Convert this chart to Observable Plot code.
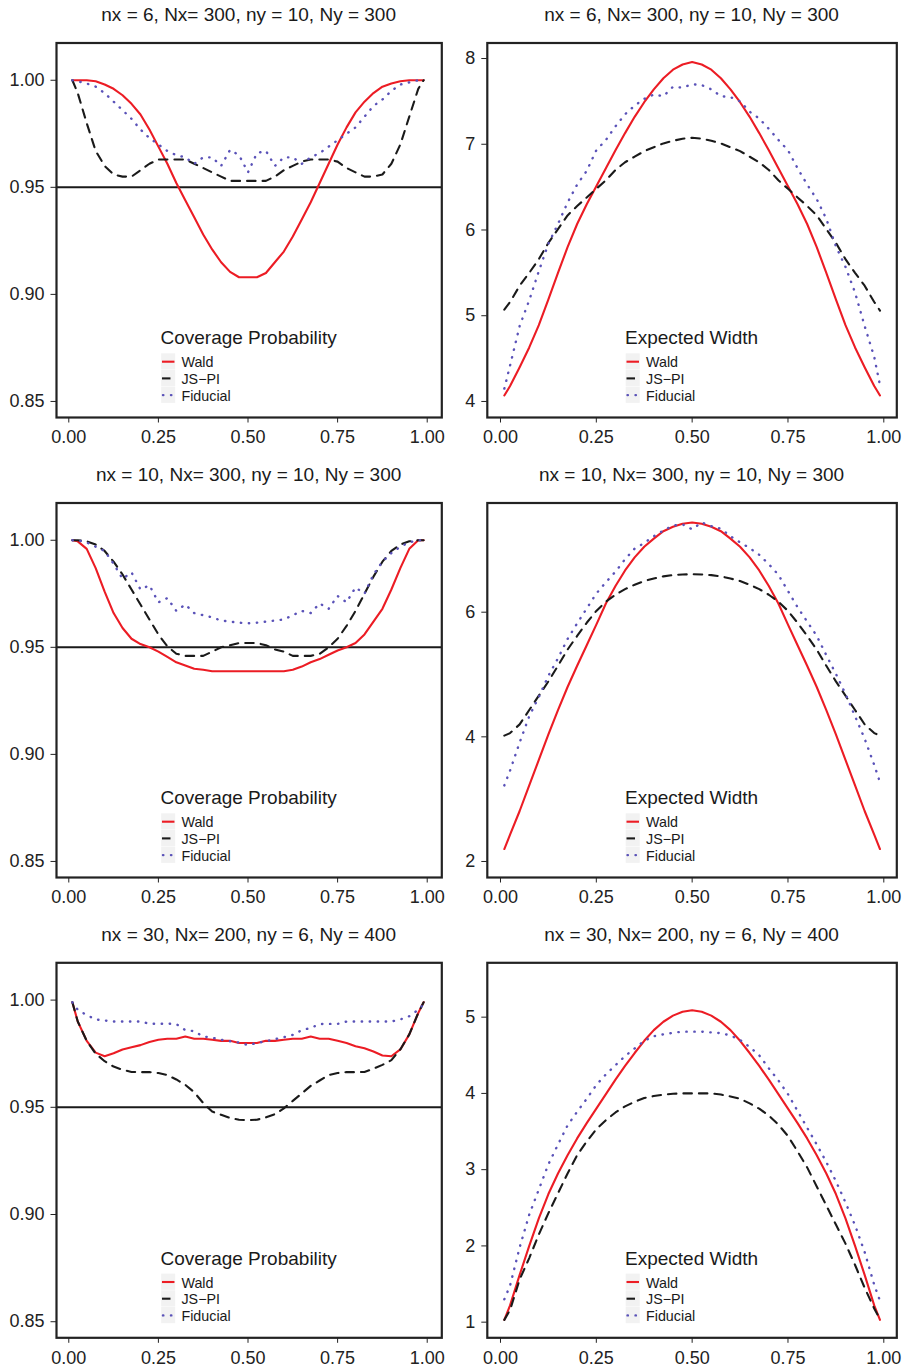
<!DOCTYPE html>
<html><head><meta charset="utf-8">
<script src="https://cdn.jsdelivr.net/npm/d3@7"></script>
<script src="https://cdn.jsdelivr.net/npm/@observablehq/plot@0.6"></script>
<style>
body{margin:0;background:#fff;}
#grid{display:grid;grid-template-columns:452px 452px;grid-template-rows:460px 460px 449px;width:904px;}
#grid svg{display:block;}
</style></head><body><div id="grid"></div>
<script>
const FONT = '"Liberation Sans", Arial, Helvetica, sans-serif';

const p = [0.01,0.025,0.05,0.075,0.1,0.125,0.15,0.175,0.2,0.225,0.25,0.275,0.3,0.325,0.35,0.375,0.4,0.425,0.45,0.475,0.5,0.525,0.55,0.575,0.6,0.625,0.65,0.675,0.7,0.725,0.75,0.775,0.8,0.825,0.85,0.875,0.9,0.925,0.95,0.975,0.99];

const methods = ["Wald", "JS\u2212PI", "Fiducial"];
const titles = ["nx = 6, Nx= 300, ny = 10, Ny = 300", "nx = 10, Nx= 300, ny = 10, Ny = 300", "nx = 30, Nx= 200, ny = 6, Ny = 400"];
const xTicks = [0, 0.25, 0.5, 0.75, 1];
const covTicks = [0.85, 0.90, 0.95, 1.00];
const wid1Ticks = [4, 5, 6, 7, 8];
const wid2Ticks = [2, 4, 6];
const wid3Ticks = [1, 2, 3, 4, 5];

// Row 1
const cov1Wald = [1.000,1.000,1.000,0.9995,0.998,0.996,0.993,0.989,0.984,0.977,0.969,0.961,0.952,0.944,0.936,0.928,0.921,0.915,0.9105,0.908,0.908,0.908,0.910,0.915,0.920,0.927,0.935,0.943,0.952,0.961,0.970,0.978,0.985,0.990,0.994,0.997,0.9985,0.9995,1.000,1.000,1.000];
const cov1JS = [1.000,0.994,0.980,0.967,0.960,0.956,0.955,0.955,0.958,0.961,0.963,0.963,0.963,0.963,0.961,0.959,0.957,0.955,0.953,0.953,0.953,0.953,0.953,0.955,0.958,0.960,0.962,0.963,0.963,0.963,0.962,0.959,0.957,0.955,0.955,0.956,0.961,0.970,0.983,0.996,1.000];
const cov1Fid = [1.000,0.9995,0.9985,0.997,0.994,0.990,0.986,0.982,0.977,0.973,0.970,0.967,0.965,0.964,0.961,0.964,0.964,0.960,0.9675,0.965,0.957,0.966,0.967,0.960,0.964,0.964,0.961,0.964,0.966,0.969,0.972,0.975,0.978,0.983,0.988,0.991,0.995,0.998,0.999,1.000,1.000];
const wid1Wald = [4.07,4.18,4.40,4.63,4.89,5.19,5.50,5.80,6.07,6.30,6.51,6.72,6.93,7.13,7.32,7.49,7.64,7.77,7.87,7.93,7.96,7.93,7.87,7.77,7.64,7.49,7.32,7.13,6.93,6.72,6.51,6.30,6.07,5.80,5.50,5.19,4.89,4.63,4.40,4.18,4.07];
const wid1JS = [5.07,5.16,5.35,5.50,5.66,5.85,6.01,6.17,6.28,6.38,6.48,6.58,6.70,6.79,6.855,6.92,6.965,7.01,7.04,7.065,7.075,7.065,7.04,7.01,6.965,6.92,6.855,6.79,6.70,6.58,6.48,6.38,6.28,6.17,6.01,5.85,5.66,5.50,5.35,5.16,5.06];
const wid1Fid = [4.15,4.42,4.88,5.18,5.52,5.84,6.07,6.32,6.53,6.69,6.93,7.05,7.21,7.35,7.45,7.53,7.58,7.56,7.67,7.66,7.70,7.69,7.64,7.56,7.55,7.50,7.38,7.30,7.18,7.05,6.93,6.72,6.53,6.36,6.13,5.81,5.57,5.27,4.88,4.52,4.19];

// Row 2
const cov2Wald = [1.000,0.9995,0.996,0.987,0.976,0.966,0.959,0.954,0.9515,0.950,0.948,0.9455,0.943,0.9415,0.940,0.9395,0.9388,0.9388,0.9388,0.9388,0.9388,0.9388,0.9388,0.9388,0.9388,0.9395,0.941,0.943,0.9445,0.9465,0.9485,0.950,0.952,0.956,0.962,0.968,0.977,0.987,0.996,1.000,1.000];
const cov2JS = [1.000,1.000,0.9995,0.998,0.995,0.990,0.984,0.977,0.970,0.963,0.956,0.9505,0.947,0.946,0.946,0.946,0.948,0.950,0.951,0.952,0.952,0.952,0.951,0.949,0.948,0.946,0.946,0.946,0.947,0.950,0.954,0.960,0.967,0.975,0.983,0.990,0.995,0.998,0.9995,1.000,1.000];
const cov2Fid = [1.000,1.000,0.999,0.997,0.995,0.989,0.982,0.985,0.977,0.979,0.971,0.973,0.967,0.970,0.966,0.965,0.964,0.9625,0.962,0.9615,0.9612,0.9615,0.962,0.9625,0.963,0.965,0.967,0.966,0.9705,0.968,0.974,0.971,0.978,0.975,0.984,0.990,0.994,0.997,0.999,1.000,1.000];
const wid2Wald = [2.20,2.43,2.81,3.22,3.63,4.04,4.43,4.80,5.14,5.47,5.80,6.14,6.42,6.67,6.88,7.05,7.18,7.30,7.37,7.42,7.44,7.42,7.37,7.30,7.18,7.05,6.88,6.67,6.42,6.14,5.80,5.47,5.14,4.80,4.43,4.04,3.63,3.22,2.81,2.43,2.20];
const wid2JS = [4.02,4.06,4.20,4.43,4.66,4.89,5.14,5.40,5.62,5.83,6.02,6.17,6.28,6.37,6.44,6.50,6.54,6.575,6.595,6.605,6.61,6.605,6.595,6.575,6.54,6.50,6.44,6.37,6.28,6.17,6.02,5.83,5.62,5.40,5.14,4.89,4.66,4.43,4.20,4.06,4.02];
const wid2Fid = [3.22,3.46,3.91,4.33,4.64,4.98,5.26,5.57,5.82,6.06,6.30,6.48,6.65,6.85,7.02,7.11,7.22,7.31,7.39,7.41,7.33,7.44,7.38,7.34,7.22,7.12,7.03,6.92,6.77,6.60,6.34,6.08,5.85,5.62,5.31,5.01,4.69,4.33,3.97,3.55,3.27];

// Row 3
const cov3Wald = [0.999,0.990,0.981,0.9755,0.9738,0.9752,0.977,0.978,0.979,0.9805,0.9815,0.982,0.982,0.983,0.982,0.982,0.9815,0.981,0.981,0.980,0.980,0.980,0.981,0.981,0.9815,0.982,0.982,0.983,0.982,0.982,0.981,0.980,0.9785,0.9775,0.976,0.9742,0.9738,0.977,0.984,0.994,0.999];
const cov3JS = [0.999,0.990,0.981,0.975,0.9715,0.969,0.9675,0.9665,0.9664,0.9664,0.966,0.965,0.963,0.9605,0.957,0.952,0.948,0.9465,0.945,0.9442,0.944,0.9442,0.9453,0.9468,0.9495,0.953,0.9565,0.960,0.9625,0.965,0.966,0.9664,0.9664,0.9665,0.968,0.9698,0.972,0.977,0.984,0.994,0.999];
const cov3Fid = [0.999,0.9955,0.993,0.991,0.9905,0.990,0.990,0.990,0.990,0.989,0.989,0.989,0.9888,0.986,0.9855,0.983,0.9825,0.9815,0.9808,0.9802,0.979,0.980,0.9808,0.9818,0.9827,0.9838,0.986,0.987,0.9888,0.9889,0.9889,0.990,0.990,0.990,0.990,0.990,0.990,0.991,0.9925,0.9955,0.998];
const wid3Wald = [1.03,1.22,1.62,2.00,2.36,2.68,2.95,3.19,3.41,3.61,3.80,3.99,4.18,4.36,4.53,4.69,4.83,4.94,5.02,5.07,5.09,5.07,5.02,4.94,4.83,4.69,4.53,4.36,4.18,3.99,3.80,3.61,3.41,3.19,2.95,2.68,2.36,2.00,1.62,1.22,1.03];
const wid3JS = [1.03,1.16,1.56,1.84,2.15,2.43,2.69,2.95,3.19,3.37,3.53,3.65,3.75,3.83,3.89,3.94,3.965,3.985,3.995,4.00,4.00,4.00,4.00,3.985,3.96,3.93,3.87,3.80,3.71,3.59,3.44,3.24,3.03,2.78,2.53,2.28,2.03,1.75,1.45,1.18,1.04];
const wid3Fid = [1.30,1.48,1.98,2.41,2.74,3.07,3.33,3.58,3.76,3.93,4.11,4.25,4.37,4.49,4.59,4.69,4.75,4.775,4.795,4.81,4.81,4.81,4.80,4.79,4.76,4.70,4.61,4.50,4.33,4.17,3.99,3.77,3.55,3.33,3.10,2.85,2.57,2.27,1.92,1.49,1.28];

const COL = {wald: "#ec1c24", js: "#1a1a1a", fid: "#5a52b8", ink: "#1a1a1a"};
const rows = arr => p.map((x, i) => ({p: x, v: arr[i]}));

const panels = [
  {title: titles[0], left: true,  row: 0, series: [cov1Wald, cov1JS, cov1Fid], yDomain: [0.8425, 1.0174], yTicks: covTicks, fmt: d3.format(".2f"), hline: true, legend: "Coverage Probability"},
  {title: titles[0], left: false, row: 0, series: [wid1Wald, wid1JS, wid1Fid], yDomain: [3.813, 8.181], yTicks: wid1Ticks, fmt: d3.format("d"), hline: false, legend: "Expected Width"},
  {title: titles[1], left: true,  row: 1, series: [cov2Wald, cov2JS, cov2Fid], yDomain: [0.8425, 1.0174], yTicks: covTicks, fmt: d3.format(".2f"), hline: true, legend: "Coverage Probability"},
  {title: titles[1], left: false, row: 1, series: [wid2Wald, wid2JS, wid2Fid], yDomain: [1.743, 7.752], yTicks: wid2Ticks, fmt: d3.format("d"), hline: false, legend: "Expected Width"},
  {title: titles[2], left: true,  row: 2, series: [cov3Wald, cov3JS, cov3Fid], yDomain: [0.8425, 1.0174], yTicks: covTicks, fmt: d3.format(".2f"), hline: true, legend: "Coverage Probability"},
  {title: titles[2], left: false, row: 2, series: [wid3Wald, wid3JS, wid3Fid], yDomain: [0.795, 5.713], yTicks: wid3Ticks, fmt: d3.format("d"), hline: false, legend: "Expected Width"}
];

const grid = document.getElementById("grid");
const styles = [
  {stroke: COL.wald, strokeWidth: 2.1},
  {stroke: COL.js, strokeWidth: 2.1, strokeDasharray: "8.5,7"},
  {stroke: COL.fid, strokeWidth: 2.4, strokeDasharray: "0.4,7.6", strokeLinecap: "round"}
];

for (const cfg of panels) {
  const W = 452;
  const H = cfg.row === 2 ? 449 : 460;
  const mT = cfg.row === 2 ? 42.3 : 42.5;
  const mB = H - (cfg.row === 2 ? 417.3 : 417);
  const mL = cfg.left ? 56 : 34.8;
  const mR = cfg.left ? 10.7 : 7.7;
  const xDomain = cfg.left ? [-0.0343, 1.0407] : [-0.0344, 1.0339];

  const marks = [];
  if (cfg.hline) marks.push(Plot.ruleY([0.95], {stroke: COL.ink, strokeWidth: 2}));
  cfg.series.forEach((s, i) => marks.push(Plot.line(rows(s), {x: "p", y: "v", ...styles[i]})));
  marks.push(Plot.frame({stroke: "#222", strokeWidth: 2.2}));
  marks.push(Plot.axisX({ticks: xTicks, tickFormat: d3.format(".2f"), tickSize: 5.5, tickPadding: 7.5, label: null}));
  marks.push(Plot.axisY({ticks: cfg.yTicks, tickFormat: cfg.fmt, tickSize: 5.5, tickPadding: 6.5, label: null}));

  const chart = Plot.plot({
    width: W, height: H,
    marginLeft: mL, marginRight: mR, marginTop: mT, marginBottom: mB,
    x: {domain: xDomain},
    y: {domain: cfg.yDomain},
    style: {fontFamily: FONT, fontSize: "18px", color: "#222", background: "white", overflow: "visible"},
    marks
  });
  grid.appendChild(chart);

  const svg = d3.select(chart);
  const fl = mL, fr = W - mR, fb = H - mB;
  const cx = (fl + fr) / 2;
  // panel title
  svg.append("text").attr("x", cx).attr("y", 21).attr("text-anchor", "middle")
    .attr("font-family", FONT).attr("font-size", 19).attr("fill", COL.ink).text(cfg.title);
  // legend
  const g = svg.append("g").attr("font-family", FONT).attr("text-anchor", "start");
  const t = g.append("text").attr("y", fb - 72.7).attr("font-size", 19).attr("fill", COL.ink)
    .attr("text-anchor", "start").text(cfg.legend);
  const tw = t.node().getComputedTextLength();
  const left = cx - tw / 2;
  t.attr("x", left);
  methods.forEach((m, i) => {
    const by = fb - 49.7 + i * 16.7;
    g.append("rect").attr("x", left + 0.7).attr("y", by - 14).attr("width", 14).attr("height", 16.2).attr("fill", "#f2f2f2");
    const st = styles[i];
    g.append("line").attr("x1", i === 2 ? left + 2.5 : left + 1.5).attr("x2", left + 14).attr("y1", by - 5.6).attr("y2", by - 5.6)
      .attr("stroke", st.stroke).attr("stroke-width", st.strokeWidth)
      .attr("stroke-linecap", st.strokeLinecap || "butt")
      .attr("stroke-dasharray", st.strokeDasharray || null);
    g.append("text").attr("x", left + 21).attr("y", by).attr("font-size", 14.3).attr("fill", COL.ink)
      .attr("text-anchor", "start").text(m);
  });
}
</script>
</body></html>
